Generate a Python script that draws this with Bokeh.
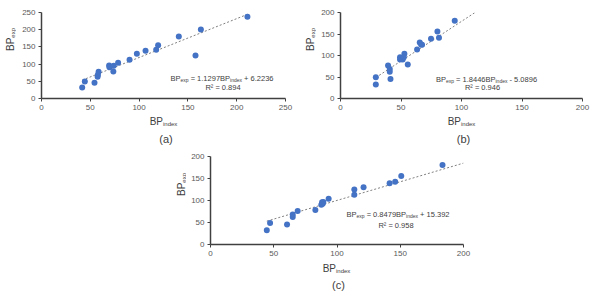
import math
from bokeh.plotting import figure
from bokeh.models import Range1d, FixedTicker, Label, Spacer
from bokeh.layouts import column, row
from bokeh.embed import file_html
from bokeh.resources import INLINE

# ---------------- data ----------------
a_index = [41.7, 44.4, 54.3, 57.5, 57.8, 58.5, 69.3, 69.6, 74.0, 73.6, 78.5, 90.2,
           97.7, 106.6, 117.5, 119.5, 140.7, 157.8, 163.3, 211.0]
a_exp = [32.0, 49.4, 45.5, 63.0, 69.0, 77.5, 96.0, 91.0, 95.0, 78.5, 103.7, 113.0,
         130.0, 138.6, 141.5, 155.0, 180.0, 125.0, 200.6, 237.4]
a_slope, a_icpt, a_r2 = 1.1297, 6.2236, 0.894
a_trend_x = [41.7, 211.0]

b_index = [29.2, 29.2, 39.3, 40.7, 40.7, 41.3, 49.2, 49.2, 50.9, 51.4, 52.8, 52.3,
           55.6, 63.3, 65.5, 66.6, 67.4, 74.8, 80.1, 81.4, 94.4]
b_exp = [49.2, 32.8, 76.6, 68.8, 62.5, 45.3, 96.0, 90.6, 93.8, 90.6, 104.0, 96.0,
         78.9, 114.0, 130.5, 125.8, 125.0, 139.0, 156.0, 141.4, 181.0]
b_slope, b_icpt, b_r2 = 1.8446, -5.0896, 0.946
b_trend_x = [29.2, 120.0]

c_index = [44.5, 47.1, 60.5, 65.0, 65.0, 68.9, 82.9, 87.6, 88.2, 88.7, 89.2, 93.4,
           113.7, 113.7, 121.0, 141.6, 146.0, 150.8, 183.4]
c_exp = [32.5, 49.0, 45.3, 62.6, 68.0, 76.2, 78.5, 90.6, 95.8, 92.8, 96.6, 104.0,
         113.0, 125.0, 130.0, 139.0, 142.6, 155.5, 180.4]
c_slope, c_icpt, c_r2 = 0.8479, 15.392, 0.958
c_trend_x = [44.5, 200.0]

a_ticks = [0, 50, 100, 150, 200, 250]
bc_ticks = [0, 50, 100, 150, 200]
panel_names = ["(a)", "(b)", "(c)"]
eq_texts = [("1.1297", "+ 6.2236"), ("1.8446", "- 5.0896"), ("0.8479", "+ 15.392")]

FONT = "Liberation Sans"
DOT = "#4472C4"
TXT = "#404040"

# approx. Arial / Liberation Sans advance widths (per 1000 em)
W = {' ': 278, '(': 333, ')': 333, '+': 584, '-': 333, '.': 278, '=': 584,
     'B': 667, 'P': 667, 'R': 722, 'a': 556, 'b': 556, 'c': 500, 'd': 556,
     'e': 556, 'i': 222, 'n': 556, 'p': 556, 'x': 500, '\u00b2': 333}


def tw(s, size):
    return sum(W.get(ch, 556) for ch in s) * size / 1000.0


def rich_text(p, x0, y0, parts, rotate=False, align="center"):
    """parts: list of (text, size, dy). x0,y0 in px from frame bottom-left."""
    total = sum(tw(t, s) for t, s, _ in parts)
    pos = -total / 2 if align == "center" else 0
    for t, s, dy in parts:
        lead = len(t) - len(t.lstrip(" "))
        pos += tw(" " * lead, s)
        body = t.strip(" ")
        if rotate:
            xo, yo, ang = x0 + dy, y0 + pos, math.pi / 2
        else:
            xo, yo, ang = x0 + pos, y0 - dy, 0
        p.add_layout(Label(x=p.x_range.start, y=p.y_range.start, x_offset=xo, y_offset=yo,
                           text=body, angle=ang, text_align="left", text_baseline="alphabetic",
                           text_font=FONT, text_font_size=f"{s}px", text_color=TXT))
        pos += tw(body + " " * (len(t) - lead - len(body)), s)


def canvas(w, h):
    c = figure(width=w, height=h, output_backend="svg", toolbar_location=None,
               x_range=Range1d(0, w), y_range=Range1d(0, h),
               x_axis_type=None, y_axis_type=None,
               min_border=0, min_border_left=0, min_border_right=0,
               min_border_top=0, min_border_bottom=0)
    c.outline_line_color = None
    c.xgrid.visible = False
    c.ygrid.visible = False
    c.background_fill_color = "white"
    c.border_fill_color = "white"
    return c


def panel(xs, ys, slope, r2, trend_x, ticks, eq, name,
          lead_w, ylab_w, ylab_base, main_w, main_h, bl, br, bt, bb, xlab_h,
          xt_center, xt_base, name_center, name_base, eq_pos, r2_pos, icpt):
    p = figure(width=main_w, height=main_h, output_backend="svg", toolbar_location=None,
               x_range=Range1d(ticks[0], ticks[-1]), y_range=Range1d(ticks[0], ticks[-1]),
               min_border_left=bl, min_border_right=br, min_border_top=bt, min_border_bottom=bb)
    p.outline_line_color = None
    p.xgrid.visible = False
    p.ygrid.visible = False
    p.background_fill_color = "white"
    p.border_fill_color = "white"
    p.xaxis.ticker = FixedTicker(ticks=ticks)
    p.yaxis.ticker = FixedTicker(ticks=ticks)
    for ax in (p.xaxis, p.yaxis):
        ax.axis_line_color = "#404040"
        ax.axis_line_width = 1.5
        ax.major_tick_line_color = "#404040"
        ax.major_tick_line_width = 1
        ax.major_tick_out = 3
        ax.major_tick_in = 0
        ax.minor_tick_out = 0
        ax.minor_tick_in = 0
        ax.major_label_text_font = FONT
        ax.major_label_text_font_size = "8px"
        ax.major_label_text_color = "#595959"
        ax.major_label_standoff = 3
    ty = [slope * x + icpt for x in trend_x]
    p.line(trend_x, ty, line_color="#808080", line_width=1, line_dash="2 2")
    p.scatter(xs, ys, size=6, fill_color=DOT, line_color=None)

    # equation + R^2 (inside the frame)
    rich_text(p, eq_pos[0], eq_pos[1],
              [("BP", 7.5, 0), ("exp", 5, 1.5), (" = " + eq[0] + "BP", 7.5, 0),
               ("index", 5, 1.5), (" " + eq[1], 7.5, 0)])
    rich_text(p, r2_pos[0], r2_pos[1], [("R\u00b2 = %.3f" % r2, 7.5, 0)])

    # y title canvas
    fh = main_h - bt - bb
    yl = canvas(ylab_w, main_h)
    rich_text(yl, ylab_base, bb + fh / 2, [("BP", 10, 0), ("exp", 6, 2.5)], rotate=True)

    # x title + panel name canvas
    xl = canvas(ylab_w + main_w, xlab_h)
    rich_text(xl, xt_center, xt_base, [("BP", 10, 0), ("index", 6, 2.5)])
    rich_text(xl, name_center, name_base, [(name, 11, 0)])

    body = column(row(yl, p), xl)
    if lead_w > 0:
        return row(Spacer(width=lead_w, height=main_h + xlab_h), body)
    return body


pa = panel(a_index, a_exp, a_slope, a_r2, a_trend_x, a_ticks, eq_texts[0], panel_names[0],
           0, 16, 9.5, 284, 114, 25, 15, 12, 16, 34,
           163, 27, 165.5, 10, (180.5, 20), (181.5, 11), a_icpt)
pb = panel(b_index, b_exp, b_slope, b_r2, b_trend_x, bc_ticks, eq_texts[1], panel_names[1],
           0, 16, 9.5, 277, 114, 24, 11, 12, 16, 34,
           161, 27, 163, 10, (146, 19), (142, 11), b_icpt)
pc = panel(c_index, c_exp, c_slope, c_r2, c_trend_x, bc_ticks, eq_texts[2], panel_names[2],
           170, 16, 10.5, 294, 112, 24, 17, 8, 16, 35,
           166, 27, 168, 11, (187.5, 30), (185.5, 19), c_icpt)

layout = column(row(pa, pb), pc)

open("out.html", "w").write(file_html(layout, INLINE))
